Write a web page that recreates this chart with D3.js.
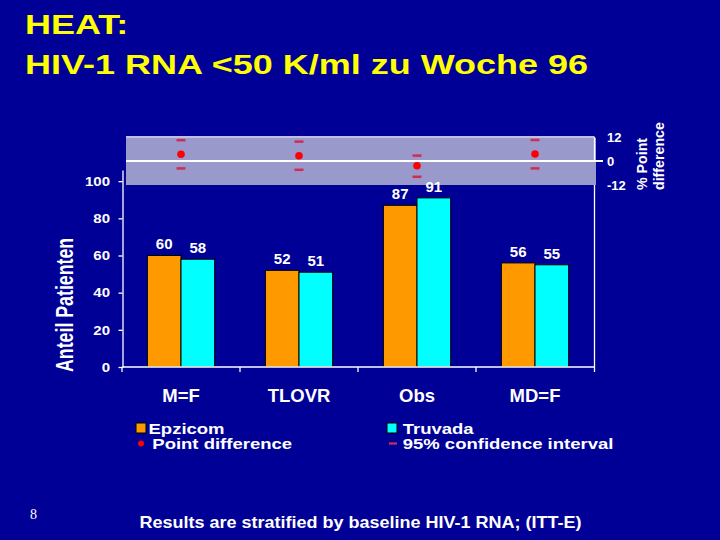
<!DOCTYPE html>
<html>
<head>
<meta charset="utf-8">
<script src="https://cdn.jsdelivr.net/npm/d3@7"></script>
<style>
html,body{margin:0;padding:0;background:#000096;}
svg{display:block;}
text{font-family:"Liberation Sans",Arial,Helvetica,sans-serif;font-weight:bold;}
</style>
</head>
<body>
<svg id="chart" width="720" height="540"></svg>
<script>
// ---- data ----
const categories = ["M=F", "TLOVR", "Obs", "MD=F"];
const seriesNames = ["Epzicom", "Truvada"];
const epzicom = [60, 52, 87, 56];
const truvada = [58, 51, 91, 55];
const pointDiff = [3.4, 2.6, -2.4, 3.5];
const ciLow = [-3.7, -4.4, -7.9, -3.7];
const ciHigh = [10.4, 9.7, 2.7, 10.5];
const yTicks = [0, 20, 40, 60, 80, 100];
const diffTicks = [12, 0, -12];
const titleLines = ["HEAT:", "HIV-1 RNA <50 K/ml zu Woche 96"];
const footer = "Results are stratified by baseline HIV-1 RNA; (ITT-E)";
const pageNo = "8";

// ---- styles ----
const BG = "#000096", ORANGE = "#FF9900", CYAN = "#00FFFF", LAV = "#9999CC",
      RED = "#FF0000", CI = "#CC2E55", WHITE = "#FFFFFF", YELLOW = "#FFFF00";

const svg = d3.select("#chart");
svg.append("rect").attr("width", 720).attr("height", 540).attr("fill", BG);

function txt(x, y, str, size, sy, opts = {}) {
  const t = svg.append("text")
    .attr("transform", `translate(${x},${y}) scale(1,${sy})${opts.rot ? " rotate(-90)" : ""}`)
    .attr("font-size", size)
    .attr("fill", opts.fill || WHITE)
    .attr("text-anchor", opts.anchor || "start")
    .text(str);
  if (opts.family) t.style("font-family", opts.family).style("font-weight", "normal");
  return t;
}

// ---- title ----
txt(25, 33.5, titleLines[0], 36, 0.76, {fill: YELLOW});
txt(25, 74, titleLines[1], 36, 0.76, {fill: YELLOW});

// ---- scales ----
const y = d3.scaleLinear().domain([0, 106]).range([367, 170]);
const x0 = d3.scaleBand().domain(categories).range([122, 594]).paddingInner(0.43).paddingOuter(0.215);
const x1 = d3.scaleBand().domain(seriesNames).range([0, x0.bandwidth()]);
const yD = d3.scaleLinear().domain([-12, 12]).range([185, 137]);
const center = c => x0(c) + x0.bandwidth() / 2;

// ---- top panel (point difference) ----
svg.append("rect").attr("x", 126).attr("y", yD(12) + 1)
  .attr("width", 470).attr("height", yD(-12) - yD(12) - 1).attr("fill", LAV);
svg.append("line").attr("x1", 126).attr("x2", 594.5).attr("y1", yD(12)).attr("y2", yD(12))
  .attr("stroke", WHITE).attr("stroke-width", 1.3);
svg.append("line").attr("x1", 594.5).attr("x2", 594.5).attr("y1", yD(12)).attr("y2", yD(0))
  .attr("stroke", WHITE).attr("stroke-width", 1.3);
svg.append("line").attr("x1", 126).attr("x2", 603).attr("y1", yD(0)).attr("y2", yD(0))
  .attr("stroke", WHITE).attr("stroke-width", 2.2);

const rAxis = svg.append("g").attr("transform", "translate(594,0)")
  .call(d3.axisRight(yD).tickValues(diffTicks).tickSize(0).tickPadding(13).tickFormat(d => String(d)));
rAxis.select(".domain").remove();
rAxis.selectAll("text").attr("font-size", 13).attr("fill", WHITE)
  .style("font-family", '"Liberation Sans",Arial,sans-serif').style("font-weight", "bold");

const ci = svg.append("g");
categories.forEach((c, i) => {
  [ciLow[i], ciHigh[i]].forEach(v => {
    ci.append("line").attr("x1", center(c) - 4.5).attr("x2", center(c) + 4.5)
      .attr("y1", yD(v)).attr("y2", yD(v)).attr("stroke", CI).attr("stroke-width", 2.5);
  });
  ci.append("circle").attr("cx", center(c)).attr("cy", yD(pointDiff[i])).attr("r", 3.8).attr("fill", RED);
});

txt(647, 190, "% Point", 14.5, 0.98, {rot: true});
txt(663.5, 190, "difference", 14.5, 0.98, {rot: true});

// ---- bar chart ----
const groups = svg.append("g").selectAll("g").data(categories).join("g")
  .attr("transform", c => `translate(${x0(c)},0)`);
const vals = [epzicom, truvada];
const colors = [ORANGE, CYAN];
groups.each(function (c, i) {
  const g = d3.select(this);
  seriesNames.forEach((s, k) => {
    const v = vals[k][i];
    g.append("rect").attr("x", x1(s)).attr("y", y(v)).attr("width", x1.bandwidth())
      .attr("height", y(0) - y(v)).attr("fill", colors[k]).attr("stroke", "#000").attr("stroke-width", 1);
    g.append("text").attr("x", x1(s) + x1.bandwidth() / 2).attr("y", y(v) - 6)
      .attr("text-anchor", "middle").attr("font-size", 15).attr("fill", WHITE).text(v);
  });
});

// y axis
const yAxis = svg.append("g").attr("transform", "translate(122.5,0)")
  .call(d3.axisLeft(y).tickValues(yTicks).tickSizeInner(4).tickSizeOuter(0).tickPadding(8.5));
yAxis.selectAll("path,line").attr("stroke", WHITE).attr("stroke-width", 1.3);
yAxis.selectAll("text").attr("font-size", 15).attr("fill", WHITE)
  .attr("transform", "scale(1,0.9)")
  .style("font-family", '"Liberation Sans",Arial,sans-serif').style("font-weight", "bold");

// x axis
svg.append("line").attr("x1", 122).attr("x2", 594.5).attr("y1", 367).attr("y2", 367)
  .attr("stroke", WHITE).attr("stroke-width", 1.3);
svg.append("line").attr("x1", 594.5).attr("x2", 594.5).attr("y1", yD(-12)).attr("y2", 367)
  .attr("stroke", WHITE).attr("stroke-width", 1.3);
const bounds = categories.map(c => x0(c) - (x0.step() - x0.bandwidth()) / 2).concat([594.5]);
svg.append("g").selectAll("line").data(bounds).join("line")
  .attr("x1", d => d).attr("x2", d => d).attr("y1", 367).attr("y2", 372)
  .attr("stroke", WHITE).attr("stroke-width", 1.3);
const xAxis = svg.append("g").attr("transform", "translate(0,367)")
  .call(d3.axisBottom(x0).tickSize(0).tickPadding(22));
xAxis.select(".domain").remove();
xAxis.selectAll("text").attr("font-size", 18.5).attr("fill", WHITE)
  .style("font-family", '"Liberation Sans",Arial,sans-serif').style("font-weight", "bold");

txt(73, 372, "Anteil Patienten", 24, 0.74, {rot: true});

// ---- legend ----
svg.append("rect").attr("x", 136).attr("y", 423).attr("width", 10).attr("height", 10)
  .attr("fill", ORANGE).attr("stroke", "#000").attr("stroke-width", 1);
svg.append("rect").attr("x", 387).attr("y", 423).attr("width", 10).attr("height", 10)
  .attr("fill", CYAN).attr("stroke", "#000").attr("stroke-width", 1);
svg.append("circle").attr("cx", 141).attr("cy", 443.5).attr("r", 3).attr("fill", RED);
svg.append("line").attr("x1", 389).attr("x2", 397).attr("y1", 443.5).attr("y2", 443.5)
  .attr("stroke", CI).attr("stroke-width", 2.2);
txt(148.5, 433.5, seriesNames[0], 18.5, 0.84);
txt(402.7, 433.5, seriesNames[1], 18.5, 0.84);
txt(152.3, 449, "Point difference", 18.5, 0.84);
txt(402.7, 449, "95% confidence interval", 18.5, 0.84);

// ---- footer ----
txt(139.5, 528, footer, 18, 0.95);
txt(30, 519, pageNo, 14, 1, {family: '"Liberation Serif","Times New Roman",serif'});
</script>
</body>
</html>
